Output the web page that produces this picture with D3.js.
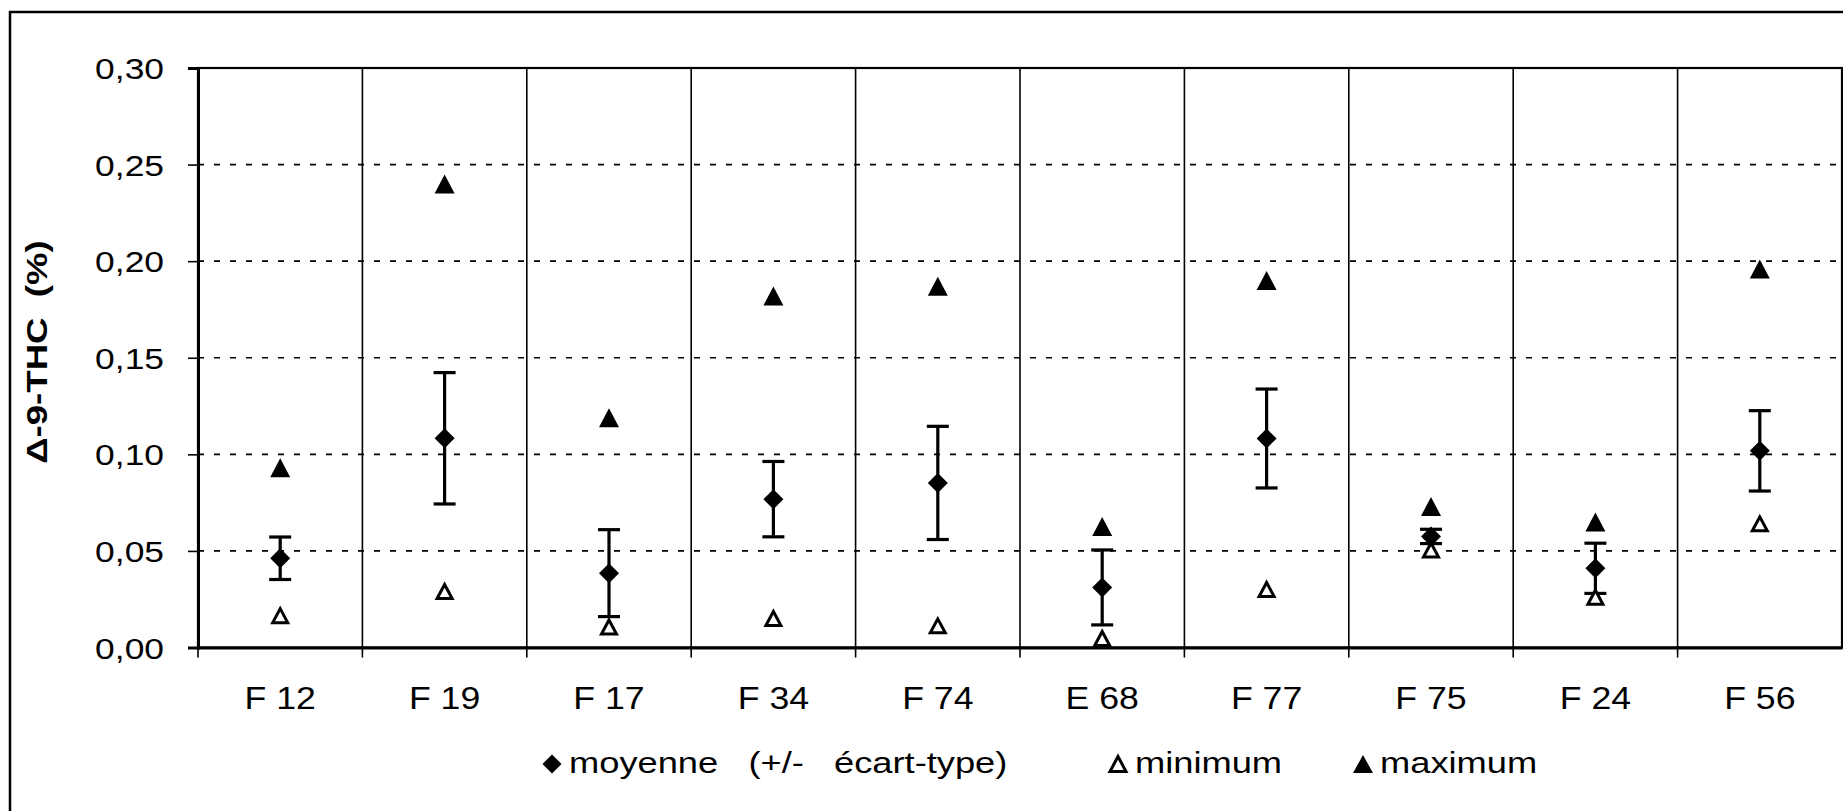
<!DOCTYPE html>
<html>
<head>
<meta charset="utf-8">
<script src="https://cdn.jsdelivr.net/npm/d3@7"></script>
<style>
  html, body { margin: 0; padding: 0; background: #fff; }
  svg text { font-family: "Liberation Sans", Arial, sans-serif; fill: #000; white-space: pre; }
</style>
</head>
<body>
<svg id="chart" width="1843" height="811"></svg>
<script>
// values
const categories = ['F 12', 'F 19', 'F 17', 'F 34', 'F 74', 'E 68', 'F 77', 'F 75', 'F 24', 'F 56'];
const means = [0.0462, 0.1083, 0.0385, 0.0768, 0.0852, 0.0311, 0.1082, 0.0575, 0.0410, 0.1018];
const stdDevs = [0.0110, 0.0340, 0.0225, 0.0195, 0.0293, 0.0194, 0.0256, 0.0037, 0.0130, 0.0208];
const minimums = [0.0165, 0.0290, 0.0106, 0.0150, 0.0112, 0.0047, 0.0300, 0.0505, 0.0260, 0.0640];
const maximums = [0.0930, 0.2400, 0.1190, 0.1820, 0.1870, 0.0626, 0.1900, 0.0730, 0.0650, 0.1960];
const yTicks = [0, 0.05, 0.10, 0.15, 0.20, 0.25, 0.30];
const legendLabels = ['moyenne   (+/-   écart-type)', 'minimum', 'maximum'];

const stretch = 1.2; // the scanned lettering is wider than normal
const svg = d3.select('#chart');

const x = d3.scaleBand()
  .domain(categories)
  .range([198, 1842])
  .paddingInner(0)
  .paddingOuter(0);

const y = d3.scaleLinear()
  .domain([0, 0.30])
  .range([647.5, 68]);

const frFormat = d3.formatLocale({ decimal: ',', thousands: ' ', grouping: [3], currency: ['', ' €'] }).format('.2f');

// outer frame (only top and left survive in the scan)
svg.append('path')
  .attr('d', 'M10,811V12H1843')
  .attr('fill', 'none')
  .attr('stroke', '#000')
  .attr('stroke-width', 2.5);

// dashed gridlines
svg.append('g')
  .selectAll('line')
  .data(yTicks.filter(t => t > 0 && t < 0.30))
  .join('line')
  .attr('x1', x.range()[0])
  .attr('x2', x.range()[1])
  .attr('y1', d => y(d))
  .attr('y2', d => y(d))
  .attr('stroke', '#000')
  .attr('stroke-width', 1.6)
  .attr('stroke-dasharray', '6 10');

// category separators, running down as ticks below the axis
svg.append('g')
  .selectAll('line')
  .data(categories.slice(0, -1))
  .join('line')
  .attr('x1', d => x(d) + x.bandwidth())
  .attr('x2', d => x(d) + x.bandwidth())
  .attr('y1', y(0.30))
  .attr('y2', y(0) + 10)
  .attr('stroke', '#000')
  .attr('stroke-width', 1.6);

// plot border
svg.append('rect')
  .attr('x', x.range()[0])
  .attr('y', y(0.30))
  .attr('width', x.range()[1] - x.range()[0])
  .attr('height', y(0) - y(0.30))
  .attr('fill', 'none')
  .attr('stroke', '#000')
  .attr('stroke-width', 2.2);

// y axis
const yAxis = svg.append('g')
  .attr('transform', `translate(${x.range()[0]},0)`)
  .call(d3.axisLeft(y).tickValues(yTicks).tickSize(10).tickFormat(frFormat));
yAxis.select('.domain').attr('stroke-width', 3);
yAxis.selectAll('.tick line').attr('stroke-width', 1.6);
yAxis.selectAll('.tick text')
  .attr('font-size', 29.5)
  .attr('font-family', null)
  .attr('transform', `scale(${stretch},1)`)
  .attr('x', -34 / stretch)
  .attr('dy', '0.36em');

// x axis line, left tick and labels
const xAxis = svg.append('g')
  .attr('transform', `translate(0,${y(0)})`)
  .call(d3.axisBottom(x).tickSize(0).tickPadding(0));
xAxis.select('.domain').attr('stroke-width', 3);
xAxis.selectAll('.tick text')
  .attr('font-size', 31)
  .attr('font-family', null)
  .attr('y', 62)
  .attr('dy', null)
  .attr('transform', 'scale(1.15,1)');
xAxis.append('line')
  .attr('x1', x.range()[0]).attr('x2', x.range()[0])
  .attr('y1', 0).attr('y2', 10)
  .attr('stroke', '#000').attr('stroke-width', 1.6);

// y axis title
svg.append('text')
  .attr('transform', 'translate(47,352) rotate(-90) scale(1.22,1)')
  .attr('text-anchor', 'middle')
  .attr('font-size', 30)
  .attr('font-weight', 'bold')
  .text('Δ-9-THC  (%)');

// marker shapes
const diamond = s => `M0,${-s}L${s},0L0,${s}L${-s},0Z`;
const triangle = (w, h) => `M0,${-h / 2}L${w / 2},${h / 2}L${-w / 2},${h / 2}Z`;

const cx = i => x(categories[i]) + x.bandwidth() / 2;

// error bars
const bars = svg.append('g')
  .attr('stroke', '#000')
  .attr('stroke-width', 3.2)
  .selectAll('g')
  .data(means)
  .join('g');
bars.append('line')
  .attr('x1', (d, i) => cx(i)).attr('x2', (d, i) => cx(i))
  .attr('y1', (d, i) => y(d - stdDevs[i]))
  .attr('y2', (d, i) => y(d + stdDevs[i]));
bars.append('line')
  .attr('x1', (d, i) => cx(i) - 11).attr('x2', (d, i) => cx(i) + 11)
  .attr('y1', (d, i) => y(d + stdDevs[i]))
  .attr('y2', (d, i) => y(d + stdDevs[i]));
bars.append('line')
  .attr('x1', (d, i) => cx(i) - 11).attr('x2', (d, i) => cx(i) + 11)
  .attr('y1', (d, i) => y(d - stdDevs[i]))
  .attr('y2', (d, i) => y(d - stdDevs[i]));

// minimum (open triangles)
svg.append('g')
  .selectAll('path')
  .data(minimums)
  .join('path')
  .attr('transform', (d, i) => `translate(${cx(i)},${y(d)})`)
  .attr('d', triangle(15, 14))
  .attr('fill', '#fff')
  .attr('stroke', '#000')
  .attr('stroke-width', 3);

// maximum (filled triangles)
svg.append('g')
  .selectAll('path')
  .data(maximums)
  .join('path')
  .attr('transform', (d, i) => `translate(${cx(i)},${y(d)})`)
  .attr('d', triangle(20, 19))
  .attr('fill', '#000');

// means (diamonds)
svg.append('g')
  .selectAll('path')
  .data(means)
  .join('path')
  .attr('transform', (d, i) => `translate(${cx(i)},${y(d)})`)
  .attr('d', diamond(10))
  .attr('fill', '#000');

// legend
const legendX = [552, 1118, 1363];
const legendBase = 773;
const legend = svg.append('g');
legend.append('path')
  .attr('transform', `translate(${legendX[0]},${legendBase - 9})`)
  .attr('d', diamond(9.5))
  .attr('fill', '#000');
legend.append('path')
  .attr('transform', `translate(${legendX[1]},${legendBase - 9})`)
  .attr('d', triangle(16, 15))
  .attr('fill', '#fff')
  .attr('stroke', '#000')
  .attr('stroke-width', 3);
legend.append('path')
  .attr('transform', `translate(${legendX[2]},${legendBase - 9})`)
  .attr('d', triangle(20, 18))
  .attr('fill', '#000');
legend.selectAll('text')
  .data(legendLabels)
  .join('text')
  .attr('transform', (d, i) => `translate(${legendX[i] + 17},${legendBase}) scale(1.23,1)`)
  .attr('font-size', 29.5)
  .text(d => d);
</script>
</body>
</html>
